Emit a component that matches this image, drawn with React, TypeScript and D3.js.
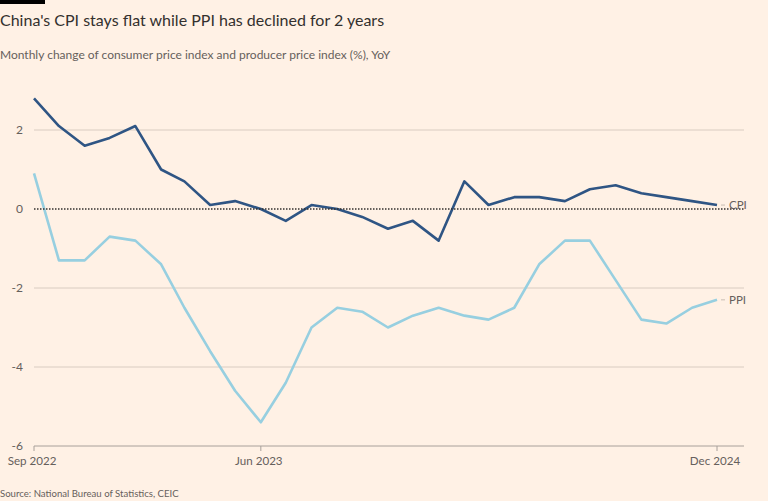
import React from "react";
import * as d3 from "d3";

const months: string[] = [
  "2022-09","2022-10","2022-11","2022-12",
  "2023-01","2023-02","2023-03","2023-04","2023-05","2023-06","2023-07","2023-08","2023-09","2023-10","2023-11","2023-12",
  "2024-01","2024-02","2024-03","2024-04","2024-05","2024-06","2024-07","2024-08","2024-09","2024-10","2024-11","2024-12",
];
const cpi: number[] = [2.8,2.1,1.6,1.8,2.1,1.0,0.7,0.1,0.2,0.0,-0.3,0.1,0.0,-0.2,-0.5,-0.3,-0.8,0.7,0.1,0.3,0.3,0.2,0.5,0.6,0.4,0.3,0.2,0.1];
const ppi: number[] = [0.9,-1.3,-1.3,-0.7,-0.8,-1.4,-2.5,-3.6,-4.6,-5.4,-4.4,-3.0,-2.5,-2.6,-3.0,-2.7,-2.5,-2.7,-2.8,-2.5,-1.4,-0.8,-0.8,-1.8,-2.8,-2.9,-2.5,-2.3];
const yTicks: number[] = [2, 0, -2, -4, -6];
const xTickMonths: string[] = ["2022-09", "2023-06", "2024-12"];
const xTickLabels: string[] = ["Sep 2022", "Jun 2023", "Dec 2024"];

const W = 768, H = 501;
const FONT = "Lato, 'Open Sans', sans-serif";
const BG = "#FFF1E5";
const CPI_COLOR = "#2f5584";
const PPI_COLOR = "#97cfe0";

export default function App() {
  const parse = d3.timeParse("%Y-%m");
  const dates = months.map((m) => parse(m) as Date);
  const x = d3.scaleTime().domain([dates[0], dates[dates.length - 1]]).range([34, 717]);
  const y = d3.scaleLinear().domain([-6, 2]).range([446, 130]);
  const line = d3.line<number>().x((_, i) => x(dates[i])).y((d) => y(d));
  const gridRight = 744;
  return (
    <div style={{ position: "fixed", left: 0, top: 0, width: W, height: H, background: BG }}>
      <svg width={W} height={H} style={{ display: "block", fontFamily: FONT }}>
        <rect x={0} y={0} width={W} height={H} fill={BG} />
        <rect x={0} y={0} width={45} height={4} fill="#000" />
        <text x={0} y={26} fontSize={16} fill="#33302e">China's CPI stays flat while PPI has declined for 2 years</text>
        <text x={0} y={59} fontSize={12} fill="#66605c">Monthly change of consumer price index and producer price index (%), YoY</text>
        {yTicks.filter((t) => t !== 0 && t !== -6).map((t) => (
          <line key={t} x1={34} x2={gridRight} y1={y(t)} y2={y(t)} stroke="#d9ccc1" strokeWidth={1} />
        ))}
        <line x1={34} x2={gridRight} y1={y(-6)} y2={y(-6)} stroke="#a8a09a" strokeWidth={1} />
        {yTicks.map((t) => (
          <text key={t} x={23} y={y(t)} dy="0.35em" textAnchor="end" fontSize={12} fill="#66605c">
            {t < 0 ? `-${Math.abs(t)}` : `${t}`}
          </text>
        ))}
        {xTickMonths.map((m, i) => {
          const xx = x(parse(m) as Date);
          return (
            <g key={m}>
              <line x1={xx} x2={xx} y1={y(-6)} y2={y(-6) + 5} stroke="#a8a09a" />
              <text x={xx - 2} y={465} textAnchor="middle" fontSize={11.6} fill="#66605c">{xTickLabels[i]}</text>
            </g>
          );
        })}
        <path d={line(ppi) || ""} fill="none" stroke={PPI_COLOR} strokeWidth={2.6} strokeLinejoin="round" />
        <path d={line(cpi) || ""} fill="none" stroke={CPI_COLOR} strokeWidth={2.6} strokeLinejoin="round" />
        <line x1={34} x2={gridRight} y1={y(0)} y2={y(0)} stroke="#33302e" strokeWidth={1.4} strokeDasharray="1.5,1.5" />
        <line x1={721} x2={725} y1={y(cpi[cpi.length - 1])} y2={y(cpi[cpi.length - 1])} stroke="#c8bdb3" />
        <text x={729} y={y(cpi[cpi.length - 1])} dy="0.35em" fontSize={11.5} fill="#66605c">CPI</text>
        <line x1={721} x2={725} y1={y(ppi[ppi.length - 1])} y2={y(ppi[ppi.length - 1])} stroke="#c8bdb3" />
        <text x={729} y={y(ppi[ppi.length - 1])} dy="0.35em" fontSize={11.5} fill="#66605c">PPI</text>
        <text x={0} y={497} fontSize={9.6} fill="#66605c">Source: National Bureau of Statistics, CEIC</text>
      </svg>
    </div>
  );
}
